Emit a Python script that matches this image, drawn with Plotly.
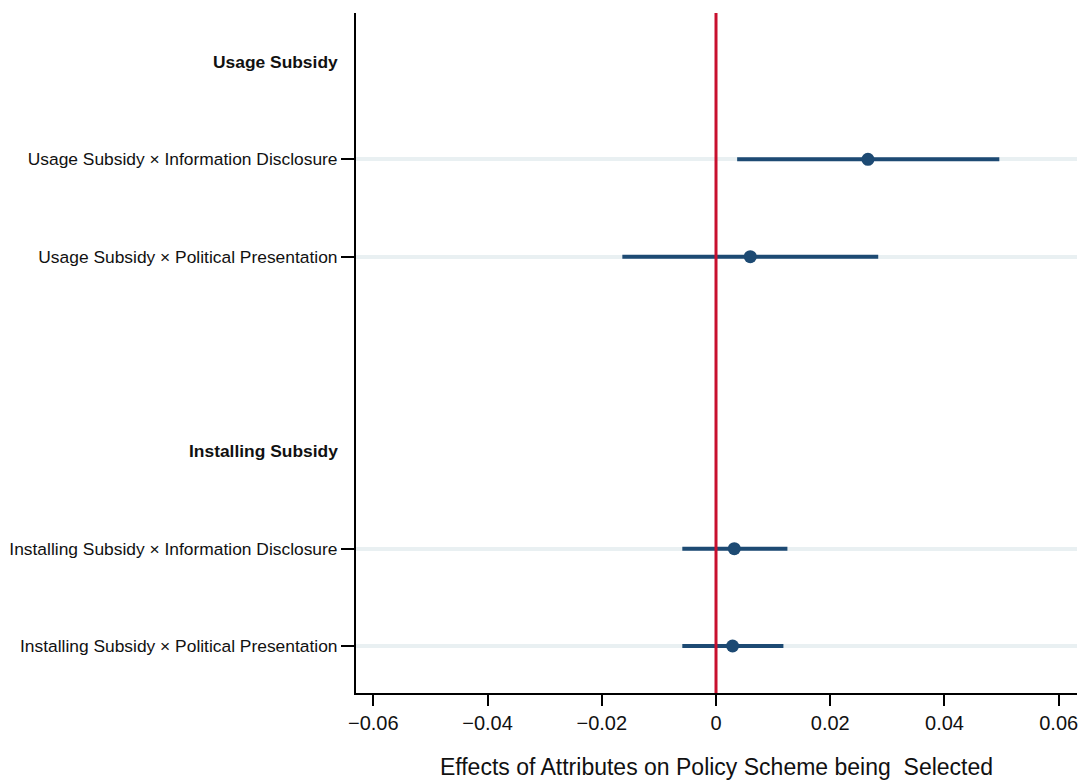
import plotly.graph_objects as go

# Data
groups = ["Usage Subsidy", "Installing Subsidy"]
terms = [
    "Usage Subsidy × Information Disclosure",
    "Usage Subsidy × Political Presentation",
    "Installing Subsidy × Information Disclosure",
    "Installing Subsidy × Political Presentation",
]
term_group = [0, 0, 1, 1]
estimates = [0.0266, 0.0060, 0.0032, 0.0029]
ci_low = [0.0037, -0.0164, -0.0059, -0.0059]
ci_high = [0.0496, 0.0284, 0.0125, 0.0118]
x_ticks = [-0.06, -0.04, -0.02, 0, 0.02, 0.04, 0.06]
x_tick_labels = ["\u22120.06", "\u22120.04", "\u22120.02", "0", "0.02", "0.04", "0.06"]

# Row layout: header, items, blank row between groups
header_rows = []
term_rows = []
row = 0
for g in range(len(groups)):
    if g > 0:
        row += 1
    header_rows.append(row)
    row += 1
    for i, tg in enumerate(term_group):
        if tg == g:
            term_rows.append(row)
            row += 1

navy = "#1d4a73"
red = "#c8102e"
font = "Liberation Sans, Arial, sans-serif"

fig = go.Figure()

# CI lines
for lo, hi, r in zip(ci_low, ci_high, term_rows):
    fig.add_trace(go.Scatter(
        x=[lo, hi], y=[r, r], mode="lines",
        line=dict(color=navy, width=4), showlegend=False, hoverinfo="skip"))

# Zero line
fig.add_shape(type="line", x0=0, x1=0, y0=0, y1=1, xref="x", yref="paper",
              line=dict(color=red, width=3), layer="above")

# Points
fig.add_trace(go.Scatter(
    x=estimates, y=term_rows, mode="markers",
    marker=dict(color=navy, size=13), showlegend=False))

# Group headers
for g, r in zip(groups, header_rows):
    fig.add_annotation(x=0, xref="paper", y=r, yref="y", text="<b>" + g + "</b>",
                       showarrow=False, xanchor="right", xshift=-16,
                       font=dict(family=font, size=17.4, color="#111111"))

fig.update_layout(
    width=1079, height=780,
    margin=dict(l=356, r=2, t=13, b=87),
    plot_bgcolor="white", paper_bgcolor="white",
    font=dict(family=font, color="#111111"),
    xaxis=dict(
        range=[-0.06303, 0.0632], tickvals=x_ticks, ticktext=x_tick_labels,
        showgrid=False, zeroline=False, showline=True, linecolor="black", linewidth=2,
        ticks="outside", ticklen=11, tickwidth=2, tickcolor="black", automargin=False,
        tickfont=dict(size=20, family=font, color="#111111"),
        title=dict(text="Effects of Attributes on Policy Scheme being  Selected",
                   font=dict(size=23, family=font, color="#111111"), standoff=31),
    ),
    yaxis=dict(
        range=[6.483, -0.503], tickvals=term_rows, ticktext=terms,
        showgrid=True, gridcolor="#e9f0f2", gridwidth=4, zeroline=False,
        showline=True, linecolor="black", linewidth=2, automargin=False,
        ticks="outside", ticklen=13, tickwidth=2, tickcolor="black",
        tickfont=dict(size=17.4, family=font, color="#111111"),
    ),
)

fig.write_html("out.html", config={"displayModeBar": False},
               post_script="document.body.style.margin='0';")
